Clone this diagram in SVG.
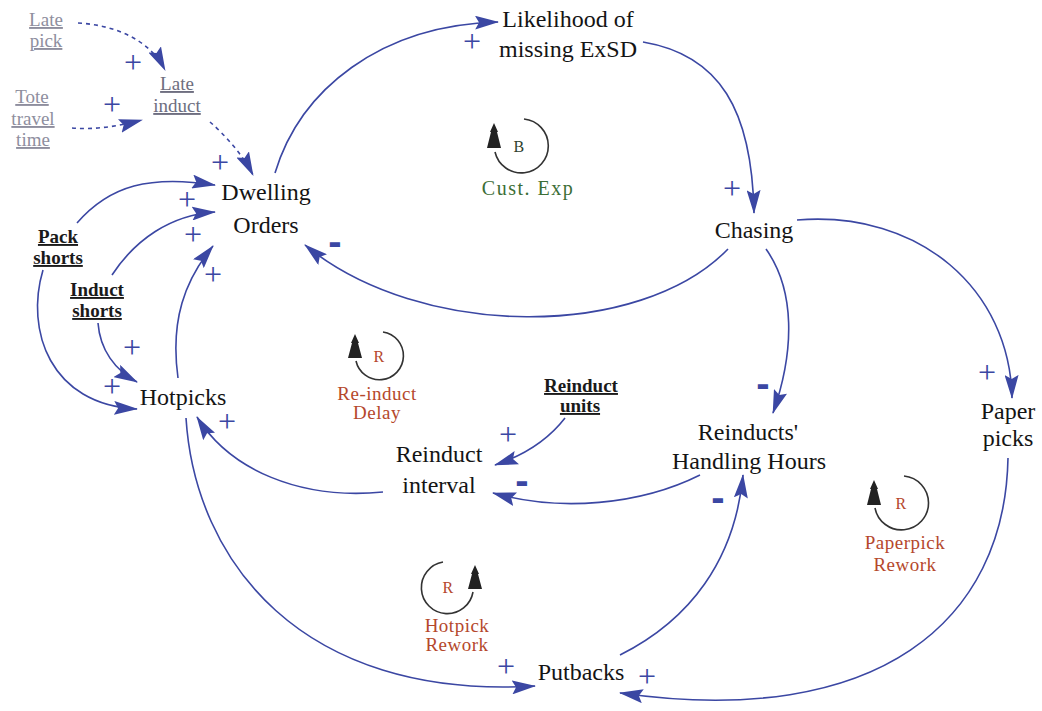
<svg xmlns="http://www.w3.org/2000/svg" width="1042" height="711" viewBox="0 0 1042 711">
<style>
.lbl{font-family:"Liberation Serif","DejaVu Serif",serif;font-size:24px;fill:#141414;text-anchor:middle}
.aux{font-family:"Liberation Serif","DejaVu Serif",serif;font-size:19px;font-weight:bold;fill:#1a1a1a;text-anchor:middle;text-decoration:underline}
.gry{font-family:"Liberation Serif","DejaVu Serif",serif;font-size:19px;fill:#8e8e9e;text-anchor:middle;text-decoration:underline}
.gry2{fill:#6e6e80}
.lp{font-family:"Liberation Serif","DejaVu Serif",serif;font-size:19px;fill:#b5482c;text-anchor:middle;letter-spacing:0.5px}
.lpg{fill:#3c6e36;font-size:20px;letter-spacing:1.5px}
.lpB{fill:#2e3f2e;font-size:16px}
.plus{font-family:"Liberation Serif","DejaVu Serif",serif;font-size:32px;fill:#3b47a3;text-anchor:middle}
.minus{font-family:"Liberation Sans","DejaVu Sans",sans-serif;font-size:40px;font-weight:bold;fill:#3b47a3;text-anchor:middle}
.c{fill:none;stroke:#3b47a3;stroke-width:1.6;marker-end:url(#ah)}
.d{stroke-dasharray:4,4}
.loop{fill:none;stroke:#333;stroke-width:1.6}
.tri{fill:#222}
</style>
<defs>
<marker id="ah" viewBox="0 0 24 14" refX="23" refY="7" markerWidth="24" markerHeight="14" markerUnits="userSpaceOnUse" orient="auto">
<path d="M0,0 L24,7 L0,14 L4,7 z" fill="#3b47a3"/>
</marker>
</defs>
<rect width="1042" height="711" fill="#ffffff"/>

<g id="connectors">
<path class="c" d="M275,173 C300,90 380,25 498,22"/>
<path class="c" d="M643,42 C720,55 752,110 754,213"/>
<path class="c" d="M728,249 C640,340 420,340 305,245"/>
<path class="c" d="M766,249 C795,290 795,350 773,413"/>
<path class="c" d="M797,220 C920,210 1010,290 1012,398"/>
<path class="c" d="M1008,458 C1005,620 880,730 620,693"/>
<path class="c" d="M620,655 C690,620 735,560 743,475"/>
<path class="c" d="M700,475 C640,505 560,512 493,493"/>
<path class="c" d="M565,418 C548,440 525,455 495,465"/>
<path class="c" d="M383,492 C300,500 230,470 197,417"/>
<path class="c" d="M186,418 C195,560 300,700 535,686"/>
<path class="c" d="M178,378 C170,320 185,280 213,246"/>
<path class="c" d="M77,223 C110,185 150,175 215,185"/>
<path class="c" d="M112,275 C135,240 170,215 215,212"/>
<path class="c" d="M43,270 C25,330 50,405 137,409"/>
<path class="c" d="M98,323 C100,350 115,370 137,382"/>
<path class="c d" d="M78,23 C115,25 150,40 165,70"/>
<path class="c d" d="M72,128 C95,130 120,126 142,120"/>
<path class="c d" d="M210,122 C225,135 243,155 253,175"/>
</g>

<g id="polarities">
<text class="plus" x="472" y="52">+</text>
<text class="plus" x="732" y="199">+</text>
<text class="minus" x="335" y="255">-</text>
<text class="minus" x="763" y="397">-</text>
<text class="plus" x="987" y="383">+</text>
<text class="plus" x="647" y="687">+</text>
<text class="minus" x="718" y="511">-</text>
<text class="minus" x="522" y="494">-</text>
<text class="plus" x="508" y="445">+</text>
<text class="plus" x="227" y="432">+</text>
<text class="plus" x="506" y="677">+</text>
<text class="plus" x="213" y="285">+</text>
<text class="plus" x="187" y="210">+</text>
<text class="plus" x="193" y="245">+</text>
<text class="plus" x="112" y="397">+</text>
<text class="plus" x="132" y="358">+</text>
<text class="plus" x="133" y="73">+</text>
<text class="plus" x="112" y="115">+</text>
<text class="plus" x="220" y="173">+</text>
</g>

<g id="likelihood"><text class="lbl" x="568" y="27">Likelihood of</text><text class="lbl" x="568" y="57">missing ExSD</text></g>
<g id="dwelling"><text class="lbl" x="266" y="200">Dwelling</text><text class="lbl" x="266" y="233">Orders</text></g>
<g id="chasing"><text class="lbl" x="754" y="238">Chasing</text></g>
<g id="hotpicks"><text class="lbl" x="183" y="405">Hotpicks</text></g>
<g id="reinduct-interval"><text class="lbl" x="439" y="462">Reinduct</text><text class="lbl" x="439" y="493">interval</text></g>
<g id="reinducts-hours"><text class="lbl" x="748" y="440">Reinducts'</text><text class="lbl" x="749" y="469">Handling Hours</text></g>
<g id="paper-picks"><text class="lbl" x="1008" y="419">Paper</text><text class="lbl" x="1008" y="446">picks</text></g>
<g id="putbacks"><text class="lbl" x="581" y="680">Putbacks</text></g>

<g id="pack-shorts"><text class="aux" x="58" y="243">Pack</text><text class="aux" x="58" y="264">shorts</text></g>
<g id="induct-shorts"><text class="aux" x="97" y="296">Induct</text><text class="aux" x="97" y="317">shorts</text></g>
<g id="reinduct-units"><text class="aux" x="581" y="392">Reinduct</text><text class="aux" x="580" y="412">units</text></g>

<g id="late-pick"><text class="gry" x="46" y="26">Late</text><text class="gry" x="46" y="47">pick</text></g>
<g id="tote-travel-time"><text class="gry" x="32" y="103">Tote</text><text class="gry" x="33" y="125">travel</text><text class="gry" x="33" y="146">time</text></g>
<g id="late-induct"><text class="gry gry2" x="177" y="90">Late</text><text class="gry gry2" x="177" y="112">induct</text></g>

<g id="loop-cust-exp">
<path class="loop" d="M524,119 A27,27 0 1 1 495,152"/>
<path class="tri" d="M494,123 L498,132 L497,132 L501,148 L487,148 L491,132 L490,132 z"/>
<text class="lp lpB" x="519" y="152">B</text>
<text class="lp lpg" x="528" y="195">Cust. Exp</text>
</g>
<g id="loop-reinduct-delay">
<path class="loop" d="M383,332 A24,24 0 1 1 356,361"/>
<path class="tri" d="M355,334 L359,343 L358,343 L362,358 L348,358 L352,343 L351,343 z"/>
<text class="lp" x="379" y="362" style="font-size:16px">R</text>
<text class="lp" x="377" y="400">Re-induct</text>
<text class="lp" x="377" y="419">Delay</text>
</g>
<g id="loop-hotpick-rework">
<path class="loop" d="M443,562 A26,26 0 1 0 473,592"/>
<path class="tri" d="M475,565 L479,574 L478,574 L482,589 L468,589 L472,574 L471,574 z"/>
<text class="lp" x="448" y="593" style="font-size:16px">R</text>
<text class="lp" x="457" y="632">Hotpick</text>
<text class="lp" x="457" y="651">Rework</text>
</g>
<g id="loop-paperpick-rework">
<path class="loop" d="M904,476 A27,27 0 1 1 875,508"/>
<path class="tri" d="M874,480 L878,489 L877,489 L881,505 L867,505 L871,489 L870,489 z"/>
<text class="lp" x="901" y="509" style="font-size:16px">R</text>
<text class="lp" x="905" y="549">Paperpick</text>
<text class="lp" x="905" y="571">Rework</text>
</g>
</svg>
